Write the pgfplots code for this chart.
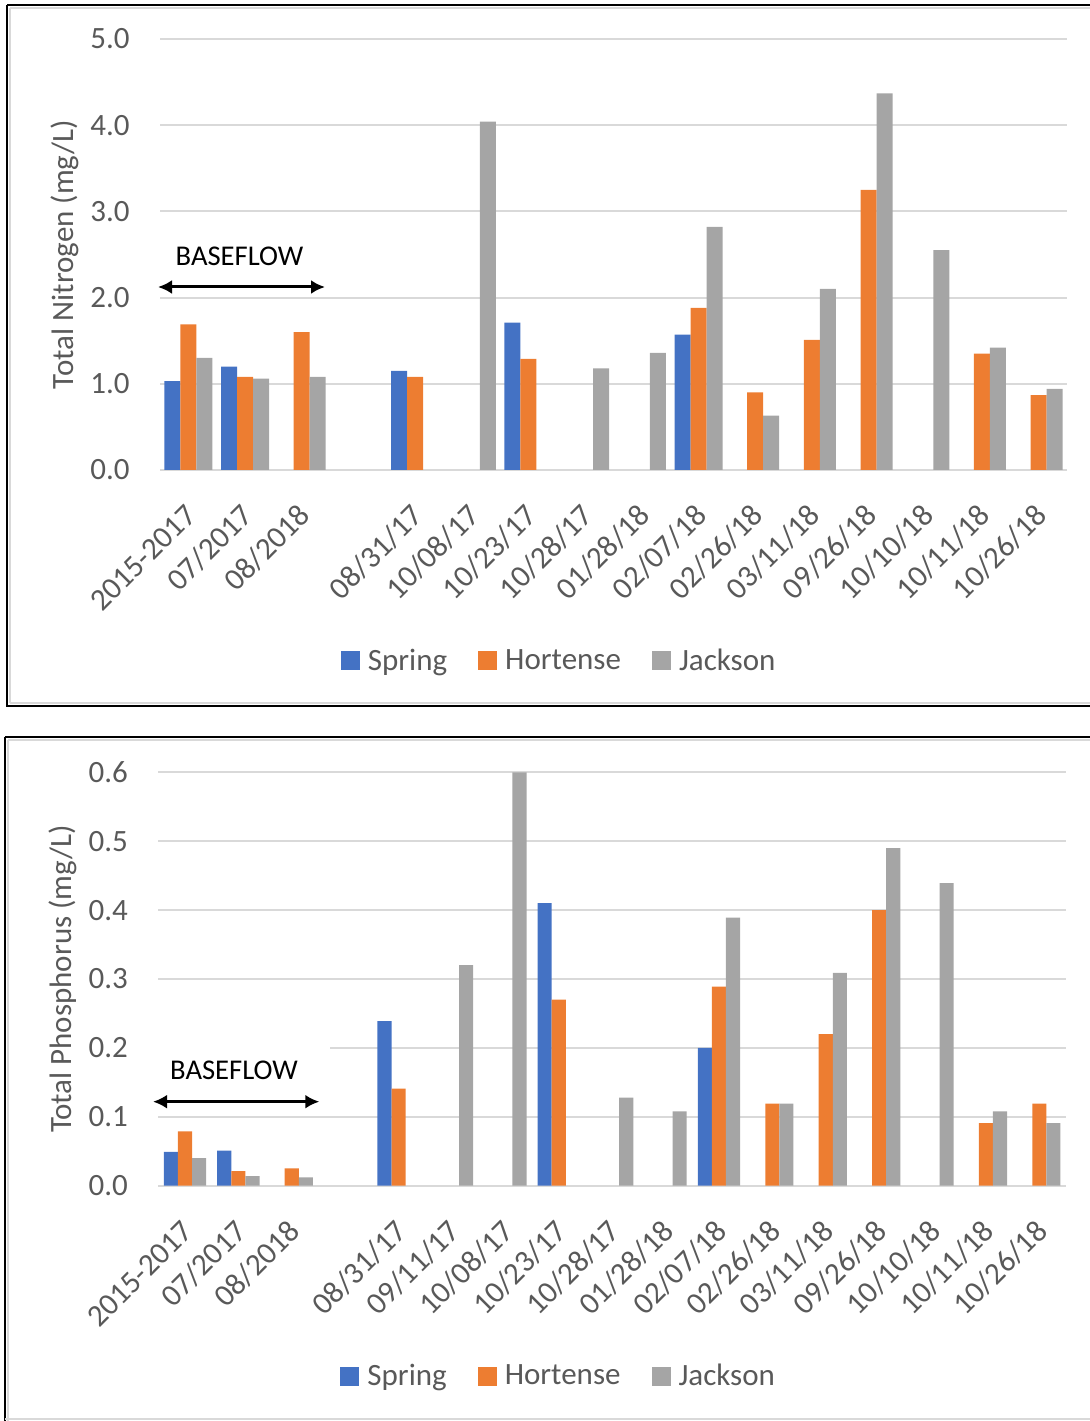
\documentclass[border=0pt]{standalone}
\usepackage{fontspec}
\setmainfont{Carlito}
\usepackage{pgfplots}
\pgfplotsset{compat=1.18}
\usetikzlibrary{arrows.meta}
\definecolor{cspring}{HTML}{4472C4}
\definecolor{chort}{HTML}{ED7D31}
\definecolor{cjack}{HTML}{A5A5A5}
\definecolor{cgrid}{HTML}{D9D9D9}
\definecolor{ctext}{HTML}{595959}
\newcommand{\lblfont}{\fontsize{15.5}{18}\selectfont}
\pgfplotsset{
  mybar/.style={
    scale only axis,
    ybar=0pt,
    axis line style={draw=none},
    major tick length=0pt,
    ymajorgrids,
    major grid style={draw=cgrid, line width=1pt},
    ymin=0,
    xtick=data,
    tick label style={font=\lblfont, text=ctext},
    /pgf/number format/assume math mode=true,
    yticklabel style={/pgf/number format/fixed, /pgf/number format/precision=1,
      /pgf/number format/fixed zerofill, inner sep=0pt, xshift=-15pt},
    xticklabel style={inner sep=0pt, xshift=1.5pt, yshift=-20pt, rotate=45, anchor=east},
    every axis y label/.style={at={(axis description cs:0,0.5)}, xshift=-47.5pt,
      rotate=90, anchor=center, font=\lblfont, text=ctext},
    legend columns=3,
    legend style={draw=none, fill=none, font=\lblfont, text=ctext,
      /tikz/every odd column/.style={column sep=4pt},
      /tikz/every even column/.style={column sep=15.5pt},
      nodes={inner sep=0pt}},
  }
}
\begin{document}
\begin{tikzpicture}
\path[use as bounding box] (0,0) rectangle (545pt,710.5pt);
% ---------------- Top: Total Nitrogen ----------------
\begin{axis}[mybar,
  at={(80pt,475.5pt)}, anchor=south west,
  width=453.5pt, height=215.5pt,
  bar width=8pt,
  xmin=-0.5, xmax=15.5,
  ymax=5, ytick={0,1,2,3,4,5},
  xtick={0,1,2,4,5,6,7,8,9,10,11,12,13,14,15},
  xticklabels={2015-2017,07/2017,08/2018,08/31/17,10/08/17,10/23/17,10/28/17,01/28/18,02/07/18,02/26/18,03/11/18,09/26/18,10/10/18,10/11/18,10/26/18},
  ylabel={Total Nitrogen (mg/L)},
  legend style={at={(axis description cs:0.439,-0.443)}, anchor=center},
  legend image code/.code={\fill[#1] (0pt,-4.75pt) rectangle (9.5pt,4.75pt);},
]
\addplot[fill=cspring, draw=none] coordinates {(0,1.03) (1,1.20) (4,1.15) (6,1.71) (9,1.57)};
\addplot[fill=chort, draw=none] coordinates {(0,1.69) (1,1.08) (2,1.60) (4,1.08) (6,1.29) (9,1.88) (10,0.90) (11,1.51) (12,3.25) (14,1.35) (15,0.87)};
\addplot[fill=cjack, draw=none] coordinates {(0,1.30) (1,1.06) (2,1.08) (5,4.04) (7,1.18) (8,1.36) (9,2.82) (10,0.63) (11,2.10) (12,4.37) (13,2.55) (14,1.42) (15,0.94)};
\legend{Spring,Hortense,Jackson}
\end{axis}
% ---------------- Bottom: Total Phosphorus ----------------
\begin{axis}[mybar,
  at={(79.15pt,117.65pt)}, anchor=south west,
  width=453.85pt, height=206.7pt,
  bar width=7.05pt,
  xmin=-0.5, xmax=16.5,
  ymax=0.6, ytick={0,0.1,0.2,0.3,0.4,0.5,0.6},
  xtick={0,1,2,4,5,6,7,8,9,10,11,12,13,14,15,16},
  xticklabels={2015-2017,07/2017,08/2018,08/31/17,09/11/17,10/08/17,10/23/17,10/28/17,01/28/18,02/07/18,02/26/18,03/11/18,09/26/18,10/10/18,10/11/18,10/26/18},
  ylabel={Total Phosphorus (mg/L)},
  legend style={at={(axis description cs:0.440,-0.461)}, anchor=center},
  legend image code/.code={\fill[#1] (0pt,-4.75pt) rectangle (9.5pt,4.75pt);},
]
\addplot[fill=cspring, draw=none] coordinates {(0,0.049) (1,0.051) (4,0.239) (7,0.41) (10,0.20)};
\addplot[fill=chort, draw=none] coordinates {(0,0.079) (1,0.021) (2,0.025) (4,0.141) (7,0.27) (10,0.289) (11,0.119) (12,0.22) (13,0.40) (15,0.091) (16,0.119)};
\addplot[fill=cjack, draw=none] coordinates {(0,0.040) (1,0.014) (2,0.012) (5,0.32) (6,0.60) (8,0.128) (9,0.108) (10,0.389) (11,0.119) (12,0.309) (13,0.49) (14,0.439) (15,0.108) (16,0.091)};
\legend{Spring,Hortense,Jackson}
\end{axis}
% ---------------- annotations and frames (pixel coordinates) ----------------
\begin{scope}[x=0.5pt, y=-0.5pt, yshift=710.5pt]
  % top panel frame
  \draw[cgrid, line width=1pt] (10,8) -- (1090,8);
  \draw[cgrid, line width=1pt] (10,8) -- (10,703);
  \draw[cgrid, line width=1pt] (10,703) -- (1090,703);
  \draw[black, line width=1pt] (7,5) -- (1090,5);
  \draw[black, line width=1pt] (7,5) -- (7,706);
  \draw[black, line width=1pt] (6,706) -- (1090,706);
  % bottom panel frame
  \draw[cgrid, line width=1pt] (8,740) -- (1090,740);
  \draw[cgrid, line width=1pt] (8,740) -- (8,1421);
  \draw[black, line width=1pt] (5,737) -- (1090,737);
  \draw[black, line width=1pt] (5,737) -- (5,1421);
  \draw[cgrid, line width=1pt] (5,1419) -- (1090,1419);
  % BASEFLOW top
  \node[anchor=base, font=\fontsize{14.3}{17}\selectfont, inner sep=0pt] at (239.5,266) {BASEFLOW};
  \draw[{Latex[length=7pt,width=7pt]}-{Latex[length=7pt,width=7pt]}, line width=1.5pt] (158,287) -- (325,287);
  % BASEFLOW bottom
  \fill[white] (152,1036) rectangle (330,1111);
  \node[anchor=base, font=\fontsize{14.3}{17}\selectfont, inner sep=0pt] at (234,1080) {BASEFLOW};
  \draw[{Latex[length=7pt,width=7pt]}-{Latex[length=7pt,width=7pt]}, line width=1.5pt] (153,1101.7) -- (319.3,1101.7);
\end{scope}
\end{tikzpicture}
\end{document}
